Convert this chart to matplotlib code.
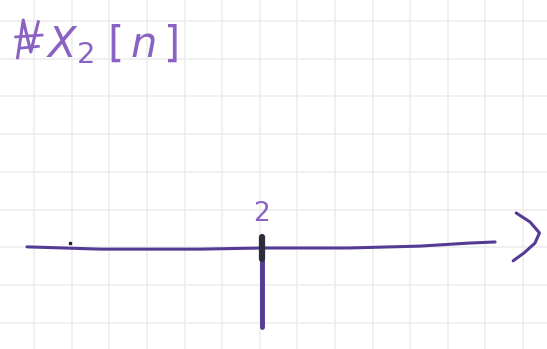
import matplotlib.pyplot as plt
import numpy as np

# x2[n]: a single negative impulse at n = 2
n = [2]
x2 = [-2.1]
tick_labels = ["2"]

# hand drawn n axis (n, height) and the arrow head at its end
axis_n = [-4.25, -2.3, 0.35, 2.0, 4.3, 6.2, 7.5, 8.2]
axis_y = [0.03, -0.03, -0.03, 0.0, 0.0, 0.05, 0.13, 0.16]
head_n = [8.76, 9.13, 9.38, 9.26, 8.97, 8.68]
head_y = [0.93, 0.69, 0.40, 0.13, -0.13, -0.34]

ink = "#553a96"
ink_light = "#8a62c4"

fig = plt.figure(figsize=(5.47, 3.49), dpi=100)
ax = fig.add_axes([0, 0, 1, 1])
ax.set_xlim(-4.968, 9.58)
ax.set_ylim(-2.68, 6.58)
ax.axis("off")

# squared paper
for gx in np.arange(-4, 10) - 0.06:
    ax.axvline(gx, color="#ececec", lw=1.1, zorder=0)
for gy in np.arange(-2, 7) + 0.02:
    ax.axhline(gy, color="#ececec", lw=1.1, zorder=0)

ax.plot(axis_n, axis_y, color=ink, lw=2.2, solid_capstyle="round", zorder=2)
ax.plot(head_n, head_y, color=ink, lw=2.2, solid_capstyle="round", zorder=2)
ax.plot([-3.1], [0.13], marker="s", ms=2, color="#222222")

for i in range(len(n)):
    ax.plot([n[i], n[i]], [0.3, x2[i]], color=ink, lw=3.5, solid_capstyle="round", zorder=3)
    ax.plot([n[i], n[i]], [0.28, -0.3], color="#2e2e3a", lw=4.5, solid_capstyle="round", zorder=4)
    ax.text(n[i], 0.55, tick_labels[i], color=ink_light, fontsize=19, ha="center", va="bottom",
            family="DejaVu Sans")

# crossed out scribble in front of the title
ax.plot([-4.5, -4.35, -4.15, -3.95], [5.05, 6.05, 5.2, 6.0], color=ink_light, lw=2.2)
ax.plot([-4.55, -3.85], [5.6, 5.65], color=ink_light, lw=2)
ax.plot([-4.45, -3.95], [5.3, 5.35], color=ink_light, lw=2)
ax.text(-3.75, 5.4, r"$X_2\;[\,n\,]$", color=ink_light, fontsize=30, ha="left", va="center")

fig.savefig("out.png", dpi=100)
